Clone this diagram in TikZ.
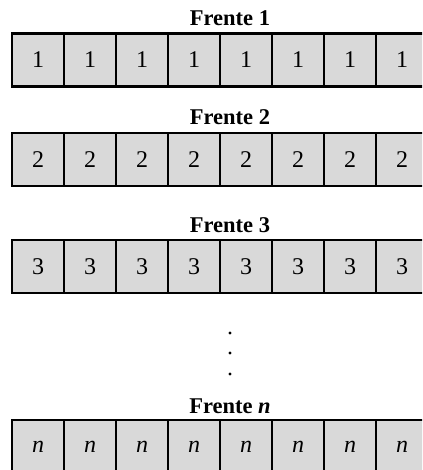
\documentclass[tikz,border=0pt]{standalone}
\usepackage{fontspec}
\setmainfont{Liberation Serif}
\begin{document}
\begin{tikzpicture}[x=1pt,y=-1pt,
  cell/.style={draw=black,fill=cellgray,line width=2.6pt,minimum width=52pt,minimum height=53pt,inner sep=0pt,outer sep=0pt,font=\fontsize{24}{28}\selectfont},
  title/.style={anchor=base,inner sep=0pt,font=\fontsize{22.5}{26}\selectfont\bfseries},
  vdot/.style={circle,fill=black,inner sep=0pt,minimum size=3.2pt}]
\definecolor{cellgray}{HTML}{D9D9D9}
\useasboundingbox (0,0) rectangle (422,470);
\clip (0,0) rectangle (422,470);
\fill[white] (0,0) rectangle (422,470);
\node[title] (t1) at (230,26) {Frente 1};
\node[title] (t2) at (230,125) {Frente 2};
\node[title] (t3) at (230,232) {Frente 3};
\node[title] (tn) at (230,413) {Frente \textit{n}};
\foreach \i in {0,...,7}{
  \node[cell] (a\i) at (38+52*\i,60) {1};
  \node[cell] (b\i) at (38+52*\i,159.5) {2};
  \node[cell] (c\i) at (38+52*\i,266.5) {3};
  \node[cell] (d\i) at (38+52*\i,446.5) {\textit{n}};
}
\node[vdot] (p1) at (230,333) {};
\node[vdot] (p2) at (230,353) {};
\node[vdot] (p3) at (230,374) {};
\end{tikzpicture}
\end{document}
